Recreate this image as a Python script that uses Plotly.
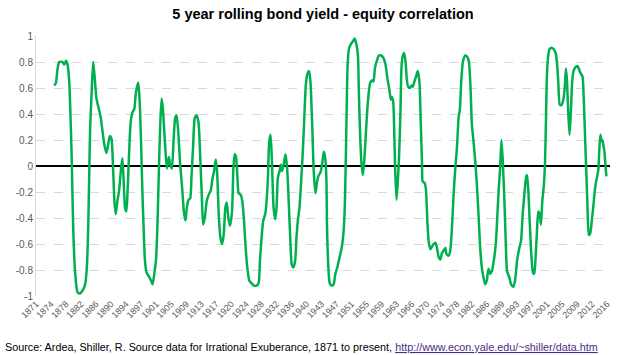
import plotly.graph_objects as go

# --- data ---
years = [
    1875.66, 1876.08, 1876.51, 1876.93, 1877.78, 1878.20, 1878.63, 1879.05, 1879.47, 1879.90,
    1880.15, 1880.49, 1881.00, 1881.59, 1882.19, 1882.86, 1883.54, 1883.97, 1884.31, 1884.56,
    1884.81, 1885.24, 1885.58, 1885.92, 1886.42, 1887.10, 1887.53, 1887.95, 1888.46, 1888.97,
    1889.39, 1889.81, 1890.24, 1890.66, 1891.00, 1891.34, 1891.76, 1892.19, 1892.69, 1893.03,
    1893.37, 1893.71, 1894.05, 1894.39, 1894.73, 1895.15, 1895.58, 1896.08,
    1896.42, 1896.76, 1897.09, 1897.43, 1897.77, 1898.11, 1898.45, 1898.79, 1899.21, 1899.81,
    1900.32, 1900.74, 1901.16, 1901.59, 1902.01, 1902.35, 1902.69, 1903.03, 1903.37, 1903.71,
    1904.04, 1904.38, 1904.89, 1905.23, 1905.65, 1906.08, 1906.50, 1906.84, 1907.26, 1907.77,
    1908.28, 1908.71, 1909.13, 1909.47, 1909.89, 1910.32, 1910.65, 1911.08, 1911.50, 1911.93,
    1912.43, 1912.86, 1913.28, 1913.62, 1914.04, 1914.55, 1915.06, 1915.57, 1915.99, 1916.42,
    1916.84, 1917.18, 1917.60, 1918.03, 1918.45, 1918.87, 1919.30, 1919.64, 1920.06, 1920.48,
    1921.00, 1921.34, 1921.67, 1922.01, 1922.35, 1922.69, 1923.20, 1923.62, 1924.05, 1924.47,
    1924.89, 1925.40, 1925.91, 1926.59, 1927.27, 1927.78, 1928.12, 1928.54, 1928.96, 1929.47,
    1929.81, 1930.15, 1930.49, 1930.83, 1931.17, 1931.59, 1932.01, 1932.35, 1932.69, 1933.12,
    1933.45, 1933.79, 1934.22, 1934.64, 1935.06, 1935.49, 1935.91, 1936.25, 1936.67, 1937.10,
    1937.44, 1937.78, 1938.20, 1938.62, 1939.05, 1939.39, 1939.81, 1940.23, 1940.66, 1941.00,
    1941.42, 1941.84, 1942.27, 1942.69, 1943.12, 1943.54, 1943.96, 1944.39, 1944.73, 1945.06,
    1945.23, 1945.57, 1945.90, 1946.41, 1946.92, 1947.35, 1947.85, 1948.45, 1948.96, 1949.38,
    1949.72, 1949.97, 1950.23, 1950.48, 1950.82, 1951.33, 1951.84, 1952.26, 1952.68, 1953.11,
    1953.36, 1953.70, 1954.04, 1954.38, 1954.72, 1955.06, 1955.40, 1955.82, 1956.24, 1956.75,
    1957.09, 1957.43, 1957.94, 1958.45, 1959.04, 1959.63, 1960.14, 1960.65, 1961.16, 1961.50,
    1961.75, 1962.09, 1962.35, 1962.60, 1962.94, 1963.28, 1963.62, 1963.96, 1964.21, 1964.55,
    1964.89, 1965.23, 1965.57, 1965.90, 1966.33, 1966.75, 1967.09, 1967.52, 1967.94, 1968.36,
    1968.79, 1969.13, 1969.46,
    1969.63, 1970.14, 1970.47, 1970.81, 1971.15, 1971.58, 1972.00, 1972.42, 1972.85, 1973.27,
    1973.69, 1974.12, 1974.54, 1974.97, 1975.39, 1975.73, 1976.24, 1976.66, 1977.08, 1977.51,
    1977.93, 1978.36, 1978.78, 1979.12, 1979.46, 1979.88, 1980.47, 1980.98, 1981.41, 1981.83,
    1982.17, 1982.59, 1983.02, 1983.44, 1983.86, 1984.29, 1984.71, 1985.14, 1985.56, 1985.98,
    1986.41, 1986.83, 1987.25, 1987.76, 1988.27, 1988.69, 1989.03, 1989.37, 1989.71, 1990.05,
    1990.47, 1990.81, 1991.15, 1991.66, 1992.17, 1992.76, 1993.19, 1993.69,
    1994.28, 1994.70, 1995.13, 1995.55, 1995.98, 1996.23, 1996.57, 1996.91, 1997.33, 1997.76,
    1998.09, 1998.43, 1998.77, 1999.11, 1999.45, 1999.79, 2000.13, 2000.47, 2000.81, 2001.06,
    2001.32, 2001.65, 2001.99, 2002.50, 2003.01, 2003.52, 2003.86, 2004.20, 2004.62, 2005.04,
    2005.55, 2005.89, 2006.15, 2006.40, 2006.74, 2007.08, 2007.42, 2007.76, 2008.09, 2008.60,
    2009.11, 2009.54, 2009.96, 2010.38, 2010.72, 2011.06, 2011.32, 2011.65, 2011.99, 2012.33,
    2012.76, 2013.18, 2013.52, 2013.86, 2014.20, 2014.45, 2014.70, 2014.96, 2015.21, 2015.47,
    2015.72, 2015.98, 2016.23, 2016.48,
]

correlation = [
    0.62, 0.64, 0.75, 0.80, 0.80, 0.78, 0.81, 0.78, 0.65, 0.29,
    0.00, -0.48, -0.83, -0.97, -0.98, -0.96, -0.91, -0.78, -0.48, -0.09,
    0.29, 0.60, 0.80, 0.70, 0.52, 0.43, 0.37, 0.27, 0.16, 0.10,
    0.16, 0.23, 0.21, -0.02, -0.27, -0.37, -0.27, -0.19, -0.02, 0.06,
    -0.12, -0.32, -0.35, -0.17, 0.09, 0.34, 0.41, 0.44,
    0.55, 0.61, 0.64, 0.50, 0.21, -0.17, -0.48, -0.73, -0.82, -0.85,
    -0.88, -0.91, -0.83, -0.73, -0.42, -0.02, 0.32, 0.52, 0.44, 0.27,
    0.11, -0.02, 0.07, 0.01, -0.02, 0.19, 0.37, 0.39, 0.27, 0.01,
    -0.17, -0.35, -0.42, -0.32, -0.26, -0.25, -0.09, 0.16, 0.37, 0.39,
    0.34, 0.09, -0.22, -0.45, -0.40, -0.27, -0.22, -0.19, -0.10, -0.04,
    0.05, -0.04, -0.37, -0.55, -0.60, -0.53, -0.32, -0.28, -0.40, -0.46,
    -0.35, -0.02, 0.09, 0.07, -0.07, -0.21, -0.22, -0.27, -0.42, -0.63,
    -0.78, -0.88, -0.90, -0.92, -0.92, -0.90, -0.73, -0.55, -0.42, -0.37,
    -0.27, -0.09, 0.19, 0.24, 0.04, -0.32, -0.41, -0.32, -0.09, -0.04,
    0.01, -0.04, 0.02, 0.09, -0.02, -0.30, -0.60, -0.76, -0.78, -0.73,
    -0.55, -0.42, -0.32, -0.12, 0.11, 0.34, 0.62, 0.71, 0.73, 0.65,
    0.34, -0.04, -0.21, -0.12, -0.07, -0.05, 0.01, 0.11, 0.07, -0.09,
    -0.48, -0.78, -0.90, -0.92, -0.91, -0.83, -0.78, -0.70, -0.63, -0.53,
    -0.35, -0.02, 0.42, 0.78, 0.90, 0.94, 0.96, 0.98, 0.94, 0.85,
    0.55, 0.21, 0.01, -0.07, 0.04, 0.21, 0.39, 0.55, 0.64, 0.66,
    0.65, 0.75, 0.81, 0.85, 0.85, 0.83, 0.78, 0.67, 0.58, 0.51,
    0.53, 0.50, 0.29, -0.02, -0.26, -0.12, 0.09, 0.42, 0.75, 0.85,
    0.87, 0.81, 0.67, 0.61, 0.60, 0.62, 0.61, 0.65, 0.69, 0.73,
    0.65, 0.34, 0.01,
    -0.12, -0.13, -0.19, -0.42, -0.58, -0.64, -0.62, -0.60, -0.59, -0.63,
    -0.70, -0.72, -0.67, -0.65, -0.63, -0.68, -0.69, -0.65, -0.48, -0.22,
    -0.02, 0.14, 0.37, 0.44, 0.65, 0.80, 0.85, 0.84, 0.80, 0.60,
    0.32, 0.19, 0.04, -0.14, -0.37, -0.63, -0.78, -0.86, -0.91, -0.88,
    -0.79, -0.83, -0.81, -0.73, -0.60, -0.37, -0.17, -0.02, 0.20, 0.04,
    -0.27, -0.58, -0.81, -0.85, -0.91, -0.93, -0.88, -0.73,
    -0.63, -0.58, -0.37, -0.22, -0.09, -0.07, -0.19, -0.42, -0.68, -0.82,
    -0.83, -0.70, -0.50, -0.35, -0.37, -0.45, -0.27, -0.17, 0.01, 0.34,
    0.70, 0.85, 0.90, 0.91, 0.90, 0.87, 0.80, 0.65, 0.47, 0.47,
    0.52, 0.62, 0.75, 0.67, 0.42, 0.24, 0.42, 0.65, 0.73, 0.76,
    0.77, 0.74, 0.71, 0.69, 0.50, 0.21, -0.02, -0.30, -0.53, -0.52,
    -0.42, -0.30, -0.19, -0.12, -0.07, -0.02, 0.14, 0.24, 0.19, 0.20,
    0.16, 0.11, 0.01, -0.08,
]

x_tick_labels = [
    "1871", "1874", "1878", "1882", "1886", "1890", "1894", "1897", "1901", "1905",
    "1909", "1913", "1917", "1920", "1924", "1928", "1932", "1936", "1940", "1943",
    "1947", "1951", "1955", "1959", "1963", "1966", "1970", "1974", "1978", "1982",
    "1986", "1989", "1993", "1997", "2001", "2005", "2009", "2012", "2016",
]
label_step_months = 46
y_tick_values = [1, 0.8, 0.6, 0.4, 0.2, 0, -0.2, -0.4, -0.6, -0.8, -1]
y_tick_labels = ["1", "0.8", "0.6", "0.4", "0.2", "0", "-0.2", "-0.4", "-0.6", "-0.8", "-1"]

x_tick_values = [1871 + i * label_step_months / 12 for i in range(len(x_tick_labels))]

fig = go.Figure()
fig.add_trace(go.Scatter(
    x=years, y=correlation, mode="lines",
    line=dict(color="#00b050", width=2.5, shape="spline", smoothing=0.6),
    hoverinfo="x+y", showlegend=False,
))

fig.update_layout(
    width=617, height=355,
    margin=dict(l=36, r=5, t=36, b=59),
    paper_bgcolor="white", plot_bgcolor="white",
    font=dict(family="Arial, Liberation Sans, sans-serif", color="#595959"),
    title=dict(
        text="<b>5 year rolling bond yield - equity correlation</b>",
        x=0.5, xanchor="center", xref="paper",
        y=1 - 14 / 355, yanchor="middle", yref="container",
        font=dict(size=14.5, color="#000000", family="Arial, Liberation Sans, sans-serif"),
    ),
    xaxis=dict(
        range=[1871, 2017.4],
        tickmode="array", tickvals=x_tick_values, ticktext=x_tick_labels,
        tickangle=-45, tickfont=dict(size=9, color="#595959"),
        showgrid=False, zeroline=False, showline=False, ticks="",
    ),
    yaxis=dict(
        range=[-1, 1],
        tickmode="array", tickvals=y_tick_values, ticktext=y_tick_labels,
        tickfont=dict(size=10, color="#595959"),
        showgrid=True, gridcolor="#d9d9d9", griddash="dash", gridwidth=1,
        zeroline=True, zerolinecolor="#000000", zerolinewidth=2,
        showline=True, linecolor="#d9d9d9", linewidth=1, ticks="",
    ),
    annotations=[dict(
        xref="paper", yref="paper", x=(3 - 36) / 576, y=(296 - 347) / 260,
        xanchor="left", yanchor="middle", showarrow=False,
        text=("Source: Ardea, Shiller, R. Source data for Irrational Exuberance, 1871 to present, "
              "<a href=\"http://www.econ.yale.edu/~shiller/data.htm\" style=\"color:#4b2a8a\">"
              "<span style=\"text-decoration:underline;color:#4b2a8a\">http://www.econ.yale.edu/~shiller/data.htm</span></a>"),
        font=dict(size=10.8, color="#000000", family="Arial, Liberation Sans, sans-serif"),
    )],
)

fig.write_html("out.html", config={"displayModeBar": False},
               post_script="document.body.style.margin='0';")
